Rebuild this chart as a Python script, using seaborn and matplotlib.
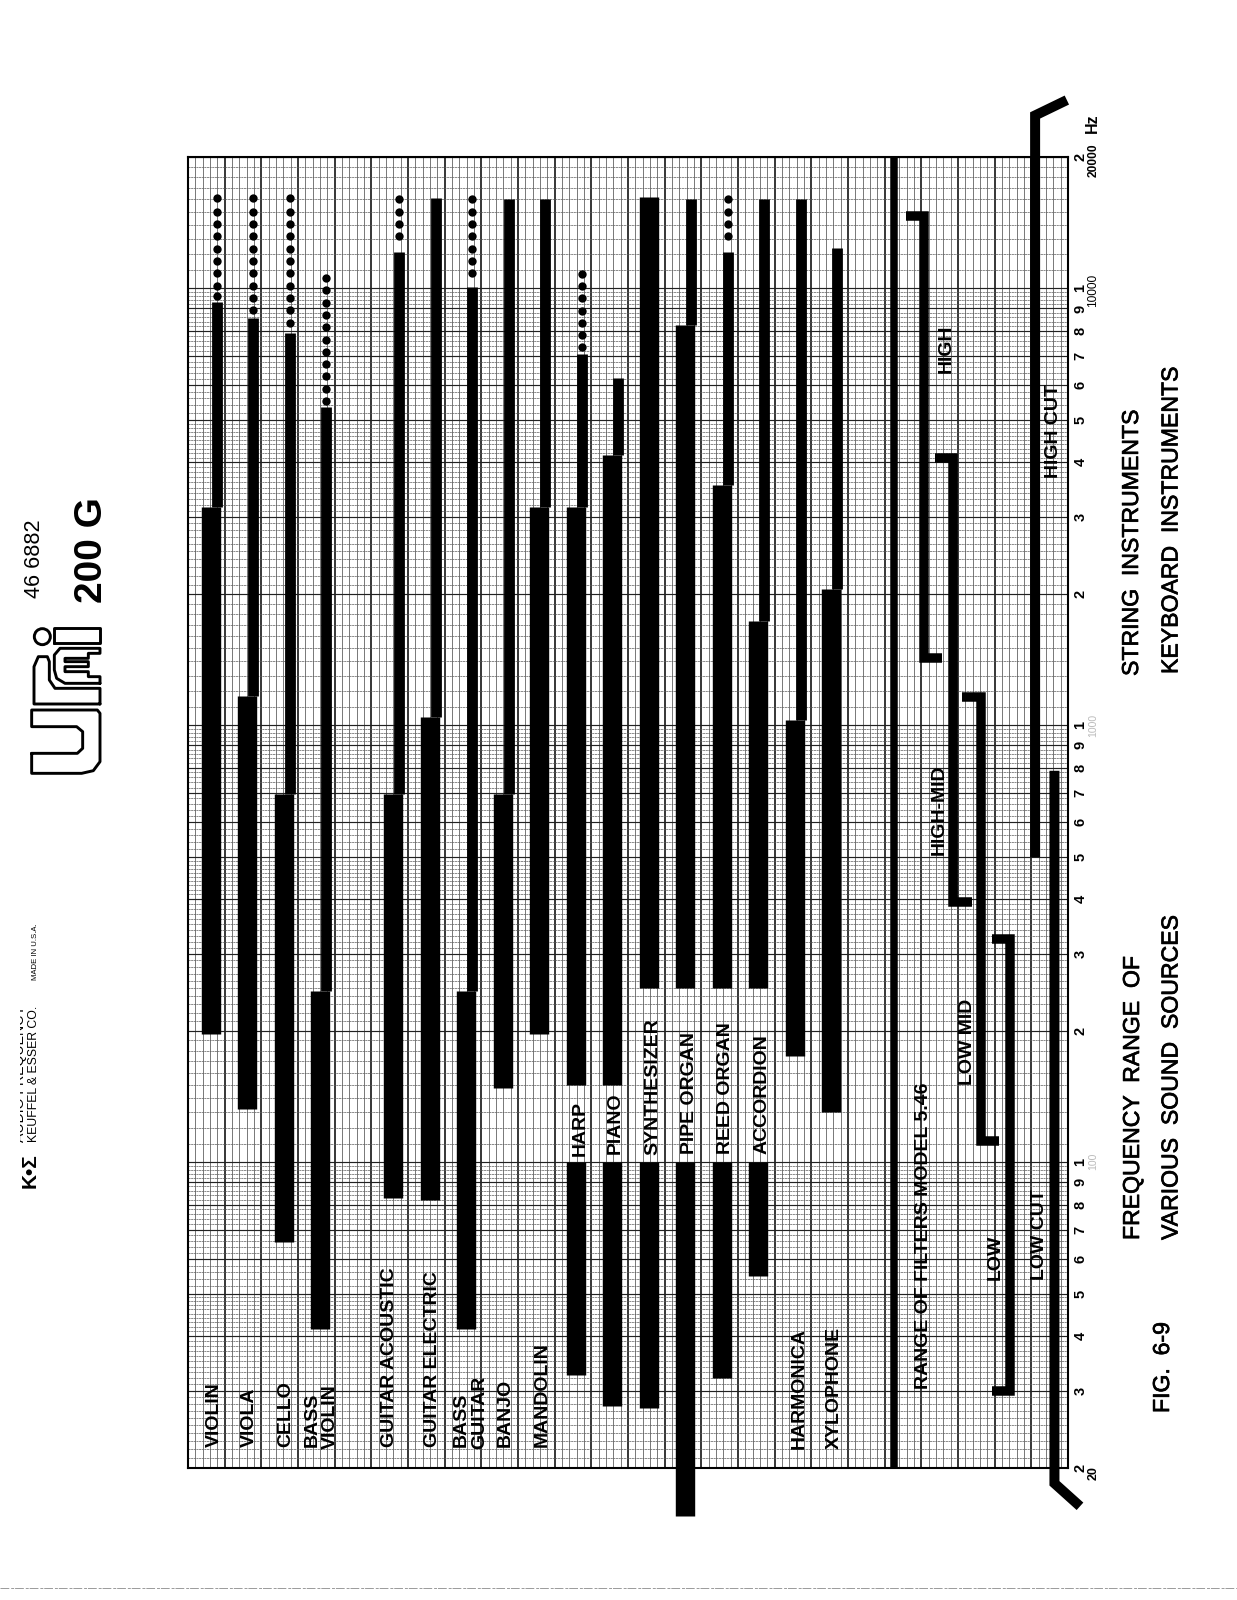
import numpy as np
import pandas as pd
import matplotlib
matplotlib.use("Agg")
import matplotlib.pyplot as plt
import matplotlib.ticker as mticker
import matplotlib.patheffects as pe
from matplotlib.patches import Rectangle, Circle
import seaborn as sns

sns.set_theme(style="white")
plt.rcParams["font.family"] = ["Liberation Sans", "DejaVu Sans"]

# ---------- data (Hz) ----------
instruments = ["VIOLIN", "VIOLA", "CELLO", "BASS VIOLIN", "GUITAR ACOUSTIC", "GUITAR ELECTRIC",
               "BASS GUITAR", "BANJO", "MANDOLIN", "HARP", "PIANO", "SYNTHESIZER", "PIPE ORGAN",
               "REED ORGAN", "ACCORDION", "HARMONICA", "XYLOPHONE"]
slots = [0, 1, 2, 3, 5, 6, 7, 8, 9, 10, 11, 12, 13, 14, 15, 16, 17]
fundamental_low = [196, 132, 65.5, 41.4, 82.6, 82, 41.4, 148, 196, 32.5, 27.6, 27.3, 15.5, 32, 54.8, 175, 130]
fundamental_high = [3155, 1166, 695, 247, 695, 1046, 247, 695, 3155, 3155, 4150, 16200, 8260, 3550, 1735, 1030, 2050]
harmonic_high = [9320, 8560, 7910, 5350, 12130, 16100, 10070, 16000, 16000, 7070, 6240, 16200, 16000, 12100, 16000, 16000, 12350]
label_gap_low = [None] * 9 + [100, 100, 100, 100, 100, 100, None, None]
label_gap_high = [None] * 9 + [150, 150, 250, 250, 250, 250, None, None]

dots_violin = [16100, 15000, 14050, 13170, 12340, 11560, 10830, 10150, 9600]
dots_viola = [16100, 15000, 14050, 13170, 12340, 11560, 10830, 10150, 9510, 8950]
dots_cello = [16100, 15000, 14050, 13170, 12340, 11560, 10830, 10150, 9510, 8910, 8350]
dots_bass_violin = [10570, 9900, 9280, 8700, 8150, 7640, 7160, 6710, 6290, 5890, 5520]
dots_guitar_acoustic = [16000, 15000, 14050, 13170]
dots_bass_guitar = [16000, 15000, 14050, 13170, 12340, 11560, 10830]
dots_harp = [10810, 10130, 9500, 8900, 8340, 7820, 7330]
dots_reed_organ = [16000, 15000, 14050, 13170]

filter_names = ["HIGH", "HIGH-MID", "LOW MID", "LOW"]
filter_low = [1423, 395, 112, 30]
filter_high = [14650, 4090, 1160, 324]
high_cut_low = 499
high_cut_top = [24900, 27000]
low_cut_high = 787
low_cut_bottom = [18.4, 16.3]
axis_low, axis_high = 20, 20000
digit_labels = ["2", "3", "4", "5", "6", "7", "8", "9", "1"]

# ---------- layout ----------
W, H = 1237, 1600
L, R, T, B = 188, 1068, 157, 1467.5
PX_PER_SLOT = 36.49
x_left = -(210.8 - L) / PX_PER_SLOT
x_right = (R - 210.8) / PX_PER_SLOT
THIN_OFFSET = 0.17
filter_pos = [19.55, 20.35, 21.1, 21.9]
hook_top = [-0.5, -0.5, -0.5, -0.5]
hook_bottom = [0.5, 0.5, 0.5, -0.5]
divider_pos, high_cut_pos, low_cut_pos = 18.72, 22.59, 23.12
high_cut_end, low_cut_end = 23.46, 23.82
pt = 0.72  # points per pixel at dpi 100

fig = plt.figure(figsize=(W / 100, H / 100), dpi=100, facecolor="white")
ov = fig.add_axes([0, 0, 1, 1], zorder=3)
ov.set_xlim(0, W)
ov.set_ylim(H, 0)
ov.axis("off")
ov.patch.set_alpha(0)
ax = fig.add_axes([L / W, 1 - B / H, (R - L) / W, (B - T) / H], zorder=2)
ax.set_yscale("log")

# ---------- frame tables ----------
thick_rows, thin_rows, dot_rows = [], [], []
for i, (s, lo, hi, th) in enumerate(zip(slots, fundamental_low, fundamental_high, harmonic_high)):
    g0, g1 = label_gap_low[i], label_gap_high[i]
    if g0 is None:
        thick_rows += [(f"{i}a", s, lo), (f"{i}a", s, hi)]
    else:
        thick_rows += [(f"{i}a", s, lo), (f"{i}a", s, g0), (f"{i}b", s, g1), (f"{i}b", s, hi)]
    if th > hi:
        thin_rows += [(i, s + THIN_OFFSET, hi), (i, s + THIN_OFFSET, th)]
thick = pd.DataFrame(thick_rows, columns=["seg", "pos", "freq"])
thin = pd.DataFrame(thin_rows, columns=["seg", "pos", "freq"])

dot_lists = {0: dots_violin, 1: dots_viola, 2: dots_cello, 3: dots_bass_violin, 5: dots_guitar_acoustic,
             7: dots_bass_guitar, 10: dots_harp, 14: dots_reed_organ}
for s, vals in dot_lists.items():
    dot_rows += [(s + THIN_OFFSET, v) for v in vals]
dots = pd.DataFrame(dot_rows, columns=["pos", "freq"])


def path_plot(df, width, **kw):
    sns.lineplot(data=df, x="pos", y="freq", units="seg", estimator=None, sort=False, color="black",
                 linewidth=width * pt, legend=False, ax=ax, clip_on=False, zorder=5, **kw)


path_plot(thick, 19.4, solid_capstyle="butt")
path_plot(thin, 10.8, solid_capstyle="butt")
sns.scatterplot(data=dots, x="pos", y="freq", color="black", s=36, linewidth=0, ax=ax, zorder=5, legend=False)

flt_rows = []
for k, (p, lo, hi, ht, hb) in enumerate(zip(filter_pos, filter_low, filter_high, hook_top, hook_bottom)):
    flt_rows += [(k, p + ht, hi), (k, p, hi), (k, p, lo), (k, p + hb, lo)]
path_plot(pd.DataFrame(flt_rows, columns=["seg", "pos", "freq"]), 9.5, solid_capstyle="butt", solid_joinstyle="miter")

cut_rows = [(0, high_cut_pos, high_cut_low), (0, high_cut_pos, high_cut_top[0]), (0, high_cut_end, high_cut_top[1]),
            (1, low_cut_pos, low_cut_high), (1, low_cut_pos, low_cut_bottom[0]), (1, low_cut_end, low_cut_bottom[1])]
path_plot(pd.DataFrame(cut_rows, columns=["seg", "pos", "freq"]), 10, solid_capstyle="butt", solid_joinstyle="miter")
path_plot(pd.DataFrame([(0, divider_pos, axis_low), (0, divider_pos, axis_high)], columns=["seg", "pos", "freq"]), 7.5,
          solid_capstyle="butt")

# ---------- graph paper ----------
ax.set_xlim(x_left, x_right)
ax.set_ylim(axis_low, axis_high)
ax.set_xticks(np.linspace(x_left, x_right, 25))
ax.set_xticks(np.linspace(x_left, x_right, 121), minor=True)
ax.set_xticklabels([])
ax.set_xlabel("")
ax.set_ylabel("")

major_y, major_lab, minor_y = [], [], []
for d in (10, 100, 1000):
    for m, lab in zip(range(2, 11), digit_labels):
        major_y.append(m * d)
        major_lab.append(lab)
    minor_y += [v * d for v in np.arange(1.1, 2.0, 0.1)]
    minor_y += [v * d for v in np.arange(2.1, 5.0, 0.1)]
    minor_y += [v * d for v in np.arange(5.2, 10.0, 0.2)]
major_y.append(20000)
major_lab.append("2")
minor_y += [v * 10000 for v in np.arange(1.1, 2.0, 0.1)]
ax.yaxis.set_major_locator(mticker.FixedLocator(major_y))
ax.yaxis.set_major_formatter(mticker.FixedFormatter(major_lab))
ax.yaxis.set_minor_locator(mticker.FixedLocator(minor_y))
ax.yaxis.set_minor_formatter(mticker.NullFormatter())
ax.yaxis.tick_right()
ax.tick_params(axis="both", which="both", length=0)
ax.tick_params(axis="y", which="major", pad=4, labelsize=10.5)
for t in ax.get_yticklabels():
    t.set_rotation(90)
    t.set_va("center")
    t.set_fontweight("bold")
    t.set_color("black")
ax.set_axisbelow(True)
ax.grid(which="major", axis="x", color="black", lw=1.1)
ax.grid(which="major", axis="y", color="#222222", lw=0.85)
ax.grid(which="minor", axis="x", color="#777777", lw=0.7)
ax.grid(which="minor", axis="y", color="#5c5c5c", lw=0.5, ls=(0, (3, 0.8)))
for sp in ax.spines.values():
    sp.set_visible(True)
    sp.set_color("black")
    sp.set_linewidth(1.5)

TEXT_SHIFT = 2.5


def vtext(x, y_bottom, s, size=14, weight="bold", stroke=0, color="black"):
    t = ov.text(x + TEXT_SHIFT, y_bottom, s, rotation=90, ha="center", va="bottom", fontsize=size, fontweight=weight,
                color=color, zorder=8)
    if stroke:
        t.set_path_effects([pe.withStroke(linewidth=stroke, foreground=color)])
    return t


labels_layout = [("VIOLIN", 212, 1447), ("VIOLA", 247, 1447), ("CELLO", 283, 1447), ("BASS", 310, 1447),
                 ("VIOLIN", 328, 1449), ("GUITAR ACOUSTIC", 387, 1447), ("GUITAR ELECTRIC", 430, 1447),
                 ("BASS", 459, 1447), ("GUITAR", 477, 1449), ("BANJO", 503, 1447), ("MANDOLIN", 540, 1447),
                 ("HARP", 577.5, 1156), ("PIANO", 613, 1154), ("SYNTHESIZER", 650, 1155), ("PIPE ORGAN", 687, 1154),
                 ("REED ORGAN", 723, 1154), ("ACCORDION", 760, 1154), ("HARMONICA", 797, 1449),
                 ("XYLOPHONE", 832, 1449), ("RANGE OF FILTERS MODEL 5.46", 921, 1389), ("HIGH", 944, 373),
                 ("HIGH-MID", 937, 855), ("LOW MID", 964.5, 1085), ("LOW", 993, 1280), ("LOW CUT", 1037, 1280),
                 ("HIGH CUT", 1051, 478)]
for s, x, y in labels_layout:
    vtext(x, y, s)

for s, x, y in [("STRING  INSTRUMENTS", 1129, 676), ("KEYBOARD  INSTRUMENTS", 1168.5, 674),
                ("FREQUENCY  RANGE  OF", 1130, 1240), ("VARIOUS  SOUND  SOURCES", 1168.5, 1240),
                ("FIG.  6-9", 1160, 1413)]:
    vtext(x, y, s, size=16.6, weight="normal", stroke=0.5)

# axis end labels
ov.text(1094, 160, "20000", rotation=90, ha="center", va="center", fontsize=8.6, fontweight="bold", color="black")
ov.text(1093, 290, "10000", rotation=90, ha="center", va="center", fontsize=8.6, color="black")
ov.text(1093, 725, "1000", rotation=90, ha="center", va="center", fontsize=7.5, color="#bbbbbb")
ov.text(1093, 1161, "100", rotation=90, ha="center", va="center", fontsize=7.5, color="#bbbbbb")
ov.text(1094, 1473, "20", rotation=90, ha="center", va="center", fontsize=9, fontweight="bold", color="black")
ov.text(1092, 123, "Hz", rotation=90, ha="center", va="center", fontsize=11.5, fontweight="bold", color="black")

# header
vtext(32, 598, "46 6882", size=15.6, weight="normal")
vtext(90, 603, "200 G", size=28)
vtext(32, 1142, "KEUFFEL & ESSER CO.", size=8.8, weight="normal")
vtext(17.5, 1142, "AUDIO FREQUENCY", size=10.2, weight="normal")
ov.add_patch(Rectangle((4, 980), 16, 170, facecolor="white", edgecolor="none", zorder=9))
vtext(33, 980, "MADE IN U.S.A.", size=5.6, weight="normal")
vtext(28, 1188, "K•Σ", size=15)


# URei logo outlines (zoom-crop coordinates converted to pixels)
def logo(pts, closed=True):
    xy = np.array(pts, float)
    if closed:
        xy = np.vstack([xy, xy[0]])
    ov.plot(10 + xy[:, 0] / 3, 480 + xy[:, 1] / 3, color="black", lw=2.1, solid_joinstyle="round", zorder=7)


logo([(65, 820), (65, 880), (215, 880), (250, 872), (270, 845), (270, 700), (262, 690), (65, 690), (65, 740),
      (200, 740), (218, 755), (218, 805), (202, 820)])
logo([(270, 672), (72, 672), (72, 560), (85, 530), (112, 530), (118, 545), (118, 600), (135, 625), (270, 625)])
logo([(270, 610), (165, 610), (140, 595), (133, 570), (133, 525), (150, 505), (270, 505), (270, 520), (235, 520),
      (235, 535), (165, 535), (165, 545), (235, 545), (235, 560), (165, 560), (165, 575), (235, 575), (235, 590), (270, 590)])
logo([(133, 490), (133, 445), (270, 445), (270, 490)])
ov.add_patch(Circle((10 + 97 / 3, 480 + 470 / 3), 8, facecolor="none", edgecolor="black", lw=2.1, zorder=7))

# scan edge at the foot of the page
ov.plot([0, W], [1588, 1588], color="#9a9a9a", lw=0.7, ls=(0, (9, 2, 3, 1)), zorder=1)

fig.savefig("out.png", dpi=100, facecolor="white")
